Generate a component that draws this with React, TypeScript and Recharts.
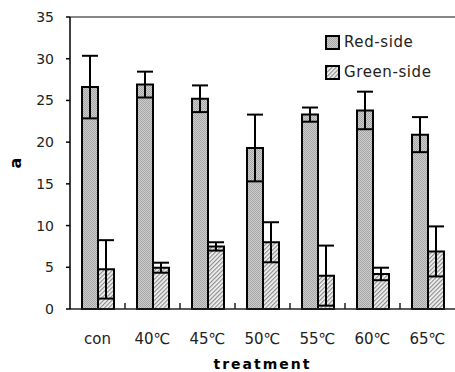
import { BarChart, Bar, XAxis, YAxis, ErrorBar, ReferenceLine, Legend } from 'recharts';

const treatments = ['con', '40℃', '45℃', '50℃', '55℃', '60℃', '65℃'];
const redSide = [26.6, 26.9, 25.2, 19.3, 23.3, 23.8, 20.9];
const redSideErr = [3.75, 1.55, 1.6, 4.0, 0.85, 2.25, 2.1];
const greenSide = [4.75, 4.95, 7.5, 8.0, 4.0, 4.2, 6.9];
const greenSideErr = [3.5, 0.6, 0.5, 2.4, 3.6, 0.75, 3.0];
const yTicks = [0, 5, 10, 15, 20, 25, 30, 35];

const data = treatments.map((t, i) => ({
  treatment: t,
  red: redSide[i],
  redErr: redSideErr[i],
  green: greenSide[i],
  greenErr: greenSideErr[i],
}));

const legendItems = [
  { label: 'Red-side', fill: 'url(#redFill)' },
  { label: 'Green-side', fill: 'url(#greenFill)' },
];

const X_TICK_SIZE = 8;
const X_TICK_MARGIN = 16;

// category label + small inward tick at the left edge of each group
function CatTick(props: any) {
  const { x, y, payload, width, visibleTicksCount, index } = props;
  const band = (width || 385) / (visibleTicksCount || treatments.length);
  const axisY = y - X_TICK_SIZE - X_TICK_MARGIN;
  return (
    <g>
      {index > 0 && (
        <line
          x1={x - band / 2}
          x2={x - band / 2}
          y1={axisY}
          y2={axisY - 6}
          stroke="#222"
          strokeWidth={1.5}
        />
      )}
      <text x={x} y={y} dy="0.71em" textAnchor="middle" fill="#222" fontSize={15}>
        {payload.value}
      </text>
    </g>
  );
}

function LegendBox() {
  return (
    <div style={{ fontFamily: 'DejaVu Sans', fontSize: 15, color: '#222' }}>
      {legendItems.map((it) => (
        <div
          key={it.label}
          style={{ display: 'flex', alignItems: 'center', height: 30, letterSpacing: 0.6 }}
        >
          <svg width={15} height={15} style={{ marginRight: 4 }}>
            <rect x={1} y={1} width={13} height={13} fill={it.fill} stroke="#000" strokeWidth={2} />
          </svg>
          {it.label}
        </div>
      ))}
    </div>
  );
}

export default function App() {
  return (
    <div style={{ position: 'absolute', left: 0, top: 0 }}>
      <svg width={0} height={0} style={{ position: 'absolute' }}>
        <defs>
          <pattern id="redFill" patternUnits="userSpaceOnUse" width={2} height={2}>
            <rect width={2} height={2} fill="#cdcdcd" />
            <rect x={0} y={0} width={1} height={1} fill="#a6a6a6" />
            <rect x={1} y={1} width={1} height={1} fill="#a6a6a6" />
          </pattern>
          <pattern
            id="greenFill"
            patternUnits="userSpaceOnUse"
            width={3}
            height={3}
            patternTransform="rotate(45)"
          >
            <rect width={3} height={3} fill="#f4f4f4" />
            <line x1={0.6} y1={0} x2={0.6} y2={3} stroke="#8c8c8c" strokeWidth={1.2} />
          </pattern>
        </defs>
      </svg>
      <BarChart
        width={455}
        height={372}
        data={data}
        margin={{ top: 17, right: 0, bottom: 3, left: 0 }}
        barGap={0}
        barSize={16}
        style={{ fontFamily: 'DejaVu Sans' }}
      >
        <XAxis
          xAxisId="cat"
          dataKey="treatment"
          height={60}
          tickLine={false}
          tickSize={X_TICK_SIZE}
          tickMargin={X_TICK_MARGIN}
          tick={<CatTick />}
          axisLine={{ stroke: '#222', strokeWidth: 1.5 }}
          label={{
            value: 'treatment',
            position: 'insideBottom',
            offset: 0,
            fill: '#000',
            fontSize: 14,
            fontWeight: 'bold',
            letterSpacing: 2,
          }}
        />
        <YAxis
          width={70}
          domain={[0, 35]}
          ticks={yTicks}
          tickSize={4}
          tickMargin={12}
          tick={{ fill: '#222', fontSize: 14 }}
          tickLine={{ stroke: '#000', strokeWidth: 1.5 }}
          axisLine={{ stroke: '#000', strokeWidth: 1.5 }}
          label={{
            value: 'a',
            angle: -90,
            position: 'insideLeft',
            offset: 15,
            textAnchor: 'middle',
            fill: '#000',
            fontSize: 16,
            fontWeight: 'bold',
          }}
        />
        <ReferenceLine xAxisId="cat" y={35} stroke="#888" strokeWidth={2} />
        <Legend
          layout="vertical"
          align="center"
          verticalAlign="middle"
          wrapperStyle={{ top: 27, left: 325, width: 130 }}
          content={() => <LegendBox />}
        />
        <Bar xAxisId="cat" dataKey="red" fill="url(#redFill)" stroke="#000" strokeWidth={2} isAnimationActive={false}>
          <ErrorBar dataKey="redErr" width={8} stroke="#000" strokeWidth={2} />
        </Bar>
        <Bar xAxisId="cat" dataKey="green" fill="url(#greenFill)" stroke="#000" strokeWidth={2} isAnimationActive={false}>
          <ErrorBar dataKey="greenErr" width={8} stroke="#000" strokeWidth={2} />
        </Bar>
      </BarChart>
    </div>
  );
}
